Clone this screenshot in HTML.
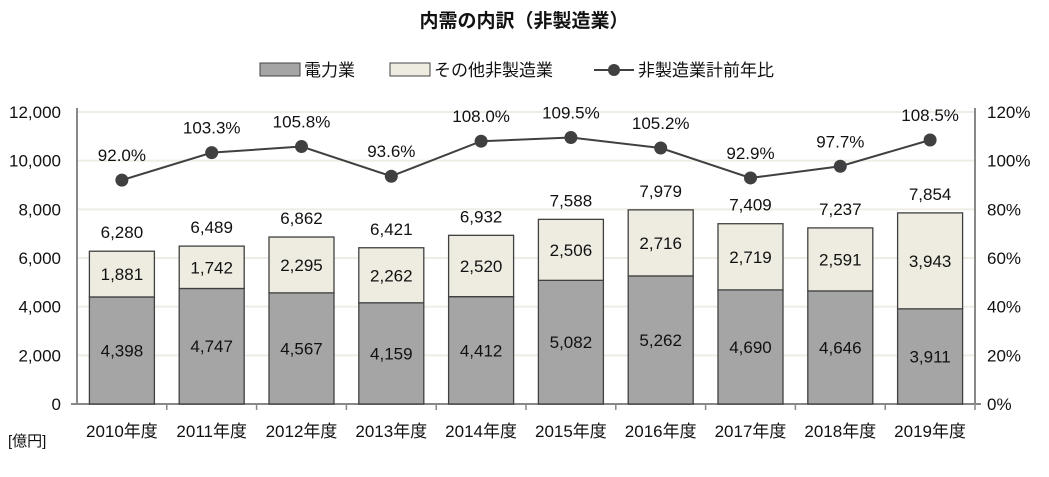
<!DOCTYPE html>
<html><head><meta charset="utf-8"><style>
body{margin:0;background:#fff;}
svg text{font-family:"Liberation Sans","Noto Sans CJK JP",sans-serif;fill:#111;}
</style></head><body>
<svg id="chart" width="1049" height="472">
<text x="524" y="27" text-anchor="middle" font-size="19" font-weight="bold">内需の内訳（非製造業）</text>
<g>
<rect x="260" y="63" width="40" height="13" fill="#a5a5a5" stroke="#444"/>
<text x="304" y="76" font-size="17">電力業</text>
<rect x="390" y="63" width="40" height="13" fill="#eeece1" stroke="#444"/>
<text x="434" y="76" font-size="17">その他非製造業</text>
<line x1="594" y1="70" x2="634" y2="70" stroke="#404040" stroke-width="2"/>
<circle cx="614" cy="70" r="6" fill="#404040"/>
<text x="638" y="76" font-size="17">非製造業計前年比</text>
</g>
<text x="8" y="446" font-size="15">[億円]</text>
<g id="plot"></g>
</svg>
<script>
const categories=["2010年度","2011年度","2012年度","2013年度","2014年度","2015年度","2016年度","2017年度","2018年度","2019年度"];
const power=[4398,4747,4567,4159,4412,5082,5262,4690,4646,3911];
const other=[1881,1742,2295,2262,2520,2506,2716,2719,2591,3943];
const totals=[6280,6489,6862,6421,6932,7588,7979,7409,7237,7854];
const ratio=[92.0,103.3,105.8,93.6,108.0,109.5,105.2,92.9,97.7,108.5];
const leftTicks=[0,2000,4000,6000,8000,10000,12000];
const rightTicks=[0,20,40,60,80,100,120];
const X0=77,X1=975,Y0=404,Y1=112;
const ns="http://www.w3.org/2000/svg";
const g=document.getElementById('plot');
const bw=(X1-X0)/categories.length;
const yL=v=>Y0-(v/12000)*(Y0-Y1);
const yR=v=>Y0-(v/120)*(Y0-Y1);
const xC=i=>X0+bw*(i+0.5);
function mk(t,a,txt){const e=document.createElementNS(ns,t);for(const k in a)e.setAttribute(k,a[k]);if(txt!==undefined)e.textContent=txt;g.appendChild(e);return e;}
leftTicks.forEach(v=>{
 if(v>0){const l=mk('line',{x1:X0,x2:X1,y1:yL(v),y2:yL(v),stroke:'#eeece4','stroke-width':2});
 
 }
 const t=mk('text',{x:X0-16,y:yL(v)+6,'text-anchor':'end','font-size':17},v.toLocaleString('en-US'));
 
 
});
rightTicks.forEach(v=>{
 const t=mk('text',{x:X1+12,y:yR(v)+6,'font-size':17},v+'%');
 
 
});
const ax=mk('line',{x1:X0,x2:X0,y1:Y1-4,y2:Y0,stroke:'#888','stroke-width':2});


const ax2=mk('line',{x1:X1,x2:X1,y1:Y1-4,y2:Y0,stroke:'#888','stroke-width':2});


const xa=mk('line',{x1:X0-6,x2:X1+6,y1:Y0,y2:Y0,stroke:'#888','stroke-width':2});


categories.forEach((c,i)=>{
 const tk=mk('line',{x1:X0+bw*(i+1),x2:X0+bw*(i+1),y1:Y0,y2:Y0+6,stroke:'#888','stroke-width':1.5});
 
 
 const x=xC(i)-32.5,w=65;
 const b1=mk('rect',{x:x,y:yL(power[i]),width:w,height:Y0-yL(power[i]),fill:'#a5a5a5',stroke:'#404040','stroke-width':1.3});
 
 
 const tot=power[i]+other[i];
 const b2=mk('rect',{x:x,y:yL(tot),width:w,height:yL(power[i])-yL(tot),fill:'#eeece1',stroke:'#404040','stroke-width':1.3});
 
 
 const l1=mk('text',{x:xC(i),y:(Y0+yL(power[i]))/2+6,'text-anchor':'middle','font-size':17},power[i].toLocaleString('en-US'));
 
 
 const l2=mk('text',{x:xC(i),y:(yL(power[i])+yL(tot))/2+6,'text-anchor':'middle','font-size':17},other[i].toLocaleString('en-US'));
 
 
 const l3=mk('text',{x:xC(i),y:yL(tot)-13,'text-anchor':'middle','font-size':17},totals[i].toLocaleString('en-US'));
 
 
 const cl=mk('text',{x:xC(i),y:437,'text-anchor':'middle','font-size':17},c);
 
 
});
const pl=mk('polyline',{points:ratio.map((v,i)=>xC(i)+','+yR(v)).join(' '),fill:'none',stroke:'#404040','stroke-width':2});


ratio.forEach((v,i)=>{
 const c=mk('circle',{cx:xC(i),cy:yR(v),r:6.5,fill:'#404040'});
 
 
 const t=mk('text',{x:xC(i),y:yR(v)-19,'text-anchor':'middle','font-size':17},v.toFixed(1)+'%');
 
 
});
</script>
</body></html>
